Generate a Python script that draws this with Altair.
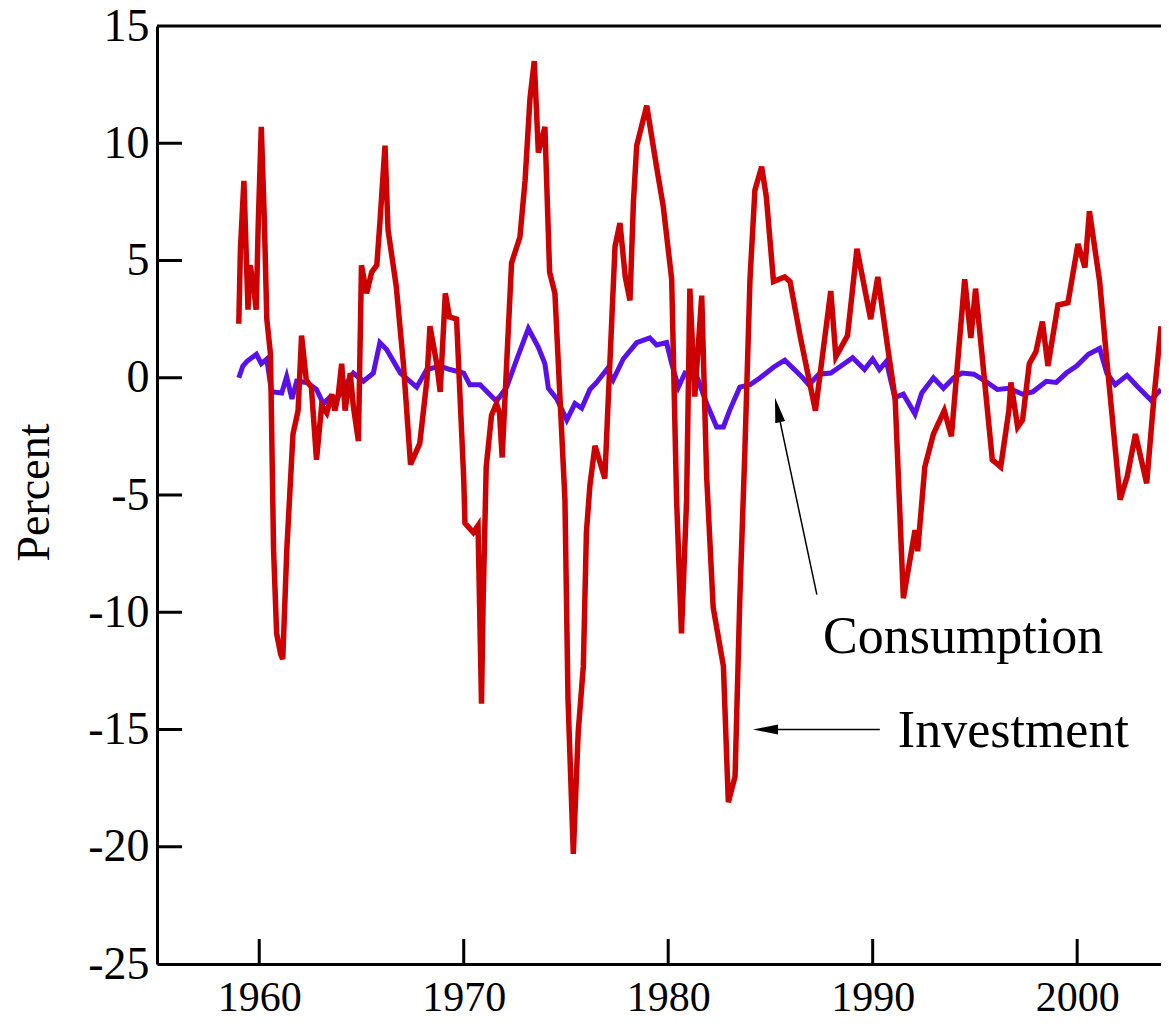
import altair as alt
import pandas as pd

# ---------------- data ----------------
inv_years = [1959.00, 1959.08, 1959.25, 1959.45, 1959.55, 1959.70, 1959.85, 1959.95, 1960.10, 1960.25,
             1960.37, 1960.55, 1960.70, 1960.85, 1961.05, 1961.15, 1961.35, 1961.65, 1961.90, 1962.07,
             1962.30, 1962.55, 1962.80, 1963.05, 1963.30, 1963.55, 1963.70, 1963.87, 1964.03, 1964.20,
             1964.45, 1964.60, 1964.85, 1965.00, 1965.25, 1965.50, 1965.75, 1965.90, 1966.15, 1966.30,
             1966.70, 1967.05, 1967.40, 1967.85, 1968.20, 1968.35, 1968.68, 1968.85, 1969.10, 1969.30,
             1969.65, 1970.00, 1970.06, 1970.47, 1970.70, 1970.87, 1970.95, 1971.10, 1971.36, 1971.60,
             1971.75, 1971.88, 1972.10, 1972.34, 1972.75, 1973.00, 1973.24, 1973.45, 1973.65, 1973.97,
             1974.20, 1974.46, 1974.75, 1974.95, 1975.10, 1975.36, 1975.60, 1975.85, 1976.00, 1976.17,
             1976.42, 1976.90, 1977.07, 1977.40, 1977.64, 1977.90, 1978.13, 1978.30, 1978.46, 1978.95,
             1979.43, 1979.76, 1980.17, 1980.41, 1980.65, 1980.90, 1981.06, 1981.30, 1981.64, 1981.88,
             1982.20, 1982.70, 1982.94, 1983.27, 1983.50, 1983.75, 1984.00, 1984.24, 1984.57, 1984.80,
             1985.15, 1985.70, 1985.96, 1986.47, 1987.20, 1987.95, 1988.20, 1988.77, 1989.23, 1989.90,
             1990.25, 1990.75, 1991.10, 1991.50, 1992.07, 1992.20, 1992.55, 1992.97, 1993.50, 1993.85,
             1994.50, 1994.80, 1995.03, 1995.85, 1996.26, 1996.66, 1996.76, 1997.09, 1997.33, 1997.66,
             1997.98, 1998.30, 1998.57, 1999.06, 1999.55, 2000.04, 2000.38, 2000.60, 2001.10, 2001.40,
             2002.10, 2002.45, 2002.85, 2003.40, 2003.75, 2004.10]
inv_values = [2.3, 5.5, 8.4, 2.9, 4.8, 4.1, 2.9, 6.5, 10.7, 6.7,
              2.5, 1.0, -7.3, -10.9, -11.8, -12.0, -7.3, -2.4, -1.4, 1.8,
              -0.1, -0.4, -3.5, -1.2, -1.5, -0.7, -1.4, -0.7, 0.6, -1.4,
              0.2, -1.2, -2.7, 4.8, 3.6, 4.5, 4.8, 6.6, 9.9, 6.3,
              3.9, 0.6, -3.7, -2.8, -0.1, 2.2, 0.6, -0.6, 3.6, 2.6,
              2.5, -4.3, -6.2, -6.6, -6.3, -13.9, -9.5, -3.8, -1.6, -1.1,
              -1.5, -3.4, 0.6, 4.9, 6.0, 8.4, 11.9, 13.5, 9.6, 10.7,
              4.5, 3.6, -1.6, -5.2, -13.7, -20.3, -15.1, -12.3, -6.6, -4.6,
              -2.9, -4.3, -0.9, 5.6, 6.6, 4.3, 3.3, 7.5, 9.9, 11.6,
              9.0, 7.3, 4.2, -5.2, -10.9, -5.2, 3.8, -0.8, 3.5, -4.2,
              -9.8, -12.3, -18.1, -17.0, -9.5, -3.1, 4.2, 8.0, 9.0, 7.7,
              4.1, 4.3, 4.1, 1.7, -1.4, 3.7, 0.9, 1.8, 5.5, 2.5,
              4.3, 1.2, -0.9, -9.4, -6.5, -7.4, -3.8, -2.4, -1.4, -2.5,
              4.2, 1.7, 3.8, -3.5, -3.8, -1.4, -0.2, -2.1, -1.8, 0.6,
              1.1, 2.4, 0.5, 3.1, 3.2, 5.7, 4.7, 7.1, 4.1, 1.2,
              -5.2, -4.2, -2.4, -4.5, -0.9, 2.2]

con_years = [1959.00, 1959.20, 1959.40, 1959.86, 1960.10, 1960.37, 1960.60, 1961.10, 1961.34, 1961.60,
             1961.83, 1962.32, 1962.80, 1963.13, 1963.50, 1963.80, 1964.20, 1964.60, 1965.09, 1965.58,
             1965.90, 1966.23, 1966.90, 1967.30, 1967.70, 1968.19, 1968.84, 1969.33, 1970.00, 1970.30,
             1970.80, 1971.60, 1972.10, 1972.60, 1973.16, 1973.65, 1973.97, 1974.14, 1974.55, 1975.04,
             1975.44, 1975.77, 1976.17, 1976.50, 1976.99, 1977.30, 1977.80, 1978.46, 1979.10, 1979.43,
             1979.92, 1980.17, 1980.50, 1980.82, 1981.40, 1981.88, 1982.37, 1982.70, 1983.00, 1983.50,
             1984.00, 1984.50, 1985.15, 1985.70, 1986.47, 1986.88, 1987.37, 1987.95, 1988.45, 1989.02,
             1989.60, 1990.00, 1990.33, 1990.67, 1991.08, 1991.50, 1992.07, 1992.40, 1992.97, 1993.46,
             1993.96, 1994.37, 1994.95, 1995.52, 1996.10, 1996.68, 1997.33, 1997.83, 1998.49, 1998.98,
             1999.47, 1999.97, 2000.55, 2001.10, 2001.45, 2001.86, 2002.44, 2002.92, 2003.60, 2004.10]
con_values = [0.0, 0.5, 0.7, 1.0, 0.6, 0.8, -0.6, -0.65, 0.05, -0.9,
              -0.15, -0.2, -0.5, -1.1, -0.8, -0.9, -0.3, 0.2, -0.15, 0.2,
              1.5, 1.2, 0.2, -0.1, -0.4, 0.35, 0.5, 0.35, 0.2, -0.3,
              -0.3, -1.0, -0.4, 0.8, 2.1, 1.3, 0.6, -0.45, -0.9, -1.8,
              -1.1, -1.3, -0.5, -0.2, 0.35, -0.1, 0.8, 1.5, 1.7, 1.4,
              1.5, 0.6, -0.4, 0.2, 0.05, -1.1, -2.1, -2.1, -1.4, -0.4,
              -0.3, 0.0, 0.45, 0.75, 0.1, -0.3, 0.15, 0.2, 0.5, 0.85,
              0.35, 0.8, 0.35, 0.7, -0.85, -0.7, -1.55, -0.65, 0.0, -0.45,
              0.0, 0.2, 0.15, -0.15, -0.5, -0.45, -0.7, -0.6, -0.15, -0.2,
              0.2, 0.5, 1.0, 1.25, 0.2, -0.3, 0.1, -0.35, -0.95, -0.5]

y_tick_values = [-25, -20, -15, -10, -5, 0, 5, 10, 15]
y_inner_ticks = [-20, -15, -10, -5, 0, 5, 10]
x_tick_values = [1960, 1970, 1980, 1990, 2000]

label_texts = ["Consumption", "Investment"]
label_years = [1987.57, 1991.23]
label_values = [-11.73, -15.74]

arrow_tail_years = [1987.27, 1990.35]
arrow_tail_values = [-9.25, -15.0]
arrow_head_years = [1985.35, 1984.76]
arrow_head_values = [-1.37, -15.0]
arrow_head_angles = [348, 270]

# ---------------- chart ----------------
W, H = 1004, 938
FONT = "Liberation Serif"
RED = "#cc0000"
BLUE = "#5a10e8"

xscale = alt.Scale(domain=[1955, 2004.1], nice=False, zero=False)
yscale = alt.Scale(domain=[-25, 15], nice=False, zero=False)

x_axis = alt.Axis(values=x_tick_values, format="d", ticks=False, grid=False,
                  domainColor="black", domainWidth=3, labelFont=FONT, labelFontSize=42,
                  labelColor="black", labelPadding=13, labelFlush=False, title=None)
y_axis = alt.Axis(values=y_tick_values, ticks=False, grid=False,
                  domainColor="black", domainWidth=3, labelFont=FONT, labelFontSize=46,
                  labelColor="black", labelPadding=8, labelFlush=False,
                  labelExpr="datum.value < 0 ? '-' + abs(datum.value) : '' + datum.value",
                  title="Percent", titleFont=FONT, titleFontSize=46, titleFontWeight="normal",
                  titleColor="black", titleX=-99, titleY=466)

con_df = pd.DataFrame({"year": con_years, "value": con_values})
inv_df = pd.DataFrame({"year": inv_years, "value": inv_values})

con_line = alt.Chart(con_df).mark_line(color=BLUE, strokeWidth=5).encode(
    x=alt.X("year:Q", scale=xscale, axis=x_axis),
    y=alt.Y("value:Q", scale=yscale, axis=y_axis),
)
inv_line = alt.Chart(inv_df).mark_line(color=RED, strokeWidth=5.5).encode(
    x=alt.X("year:Q", scale=xscale),
    y=alt.Y("value:Q", scale=yscale),
)

ytick_df = pd.DataFrame({"value": y_inner_ticks})
yticks = alt.Chart(ytick_df).mark_rule(color="black", strokeWidth=3).encode(
    y=alt.Y("value:Q", scale=yscale), x=alt.value(0), x2=alt.value(25))

xtick_df = pd.DataFrame({"year": x_tick_values})
xticks = alt.Chart(xtick_df).mark_rule(color="black", strokeWidth=3).encode(
    x=alt.X("year:Q", scale=xscale), y=alt.value(H), y2=alt.value(H - 25))

top_df = pd.DataFrame({"value": [15]})
top_line = alt.Chart(top_df).mark_rule(color="black", strokeWidth=3).encode(
    y=alt.Y("value:Q", scale=yscale), x=alt.value(0), x2=alt.value(W))

arrow_df = pd.DataFrame({"year": arrow_tail_years, "value": arrow_tail_values,
                         "year2": arrow_head_years, "value2": arrow_head_values,
                         "angle": arrow_head_angles})
arrow_lines = alt.Chart(arrow_df).mark_rule(color="black", strokeWidth=1.5).encode(
    x=alt.X("year:Q", scale=xscale), y=alt.Y("value:Q", scale=yscale),
    x2="year2:Q", y2="value2:Q")
arrow_heads = alt.Chart(arrow_df).mark_point(
    shape="M0,-1L0.4,1L-0.4,1Z", filled=True, size=625, color="black", opacity=1,
    strokeWidth=0).encode(
    x=alt.X("year2:Q", scale=xscale), y=alt.Y("value2:Q", scale=yscale),
    angle=alt.Angle("angle:Q", scale=None))

label_df = pd.DataFrame({"year": label_years, "value": label_values, "label": label_texts})
labels = alt.Chart(label_df).mark_text(align="left", baseline="alphabetic", font=FONT,
                                       fontSize=52, color="black").encode(
    x=alt.X("year:Q", scale=xscale), y=alt.Y("value:Q", scale=yscale), text="label:N")

chart = alt.layer(con_line, inv_line, yticks, xticks, top_line, arrow_lines, arrow_heads, labels).properties(
    width=W, height=H,
    autosize=alt.AutoSizeParams(type="none"),
    padding={"left": 149, "top": 18, "right": 0, "bottom": 58},
    background="white",
).configure_view(stroke=None)

chart.save("out.html", embed_options={"renderer": "svg", "actions": False})
